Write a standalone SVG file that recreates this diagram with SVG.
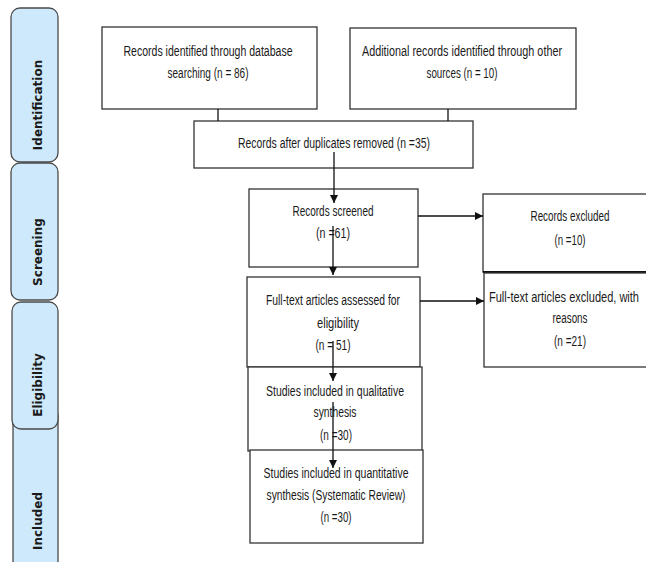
<svg xmlns="http://www.w3.org/2000/svg" width="646" height="562" viewBox="0 0 646 562">
<style>
.tab{fill:#cde9fb;stroke:#4a4a4a;stroke-width:1.3}
.tt{font-family:"DejaVu Sans",sans-serif;font-weight:bold;font-size:12px;fill:#1a1a1a;text-anchor:middle}
.box{fill:#fff;stroke:#333;stroke-width:1.3}
.t{font-family:"Liberation Sans",Arial,sans-serif;font-size:14px;fill:#1a1a1a;text-anchor:middle}
.ln{stroke:#111;stroke-width:1.3;fill:none}
</style>
<defs>
<marker id="ah" viewBox="0 0 10 10" refX="10" refY="5" markerWidth="8" markerHeight="8" markerUnits="userSpaceOnUse" orient="auto">
<path d="M0,0 L10,5 L0,10 Z" fill="#111"/>
</marker>
</defs>
<rect width="646" height="562" fill="#fff"/>
<g id="tab-included"><rect class="tab" x="13" y="408" width="45" height="170" rx="8"/><text class="tt" transform="translate(42,521) rotate(-90)">Included</text></g>
<g id="tab-identification"><rect class="tab" x="11" y="8" width="47" height="154" rx="9"/><text class="tt" transform="translate(42,105) rotate(-90)">Identification</text></g>
<g id="tab-screening"><rect class="tab" x="11" y="163" width="47" height="137" rx="9"/><text class="tt" transform="translate(42,252) rotate(-90)">Screening</text></g>
<g id="tab-eligibility"><rect class="tab" x="12" y="302" width="46" height="127" rx="9"/><text class="tt" transform="translate(42,385) rotate(-90)">Eligibility</text></g>

<g id="n1"><rect class="box" x="102" y="27" width="215" height="82"/><text class="t" x="208" y="56" textLength="169" lengthAdjust="spacingAndGlyphs">Records identified through database</text><text class="t" x="208" y="78" textLength="81" lengthAdjust="spacingAndGlyphs">searching (n = 86)</text></g>
<g id="n2"><rect class="box" x="350" y="28" width="226" height="81"/><text class="t" x="462" y="56" textLength="200" lengthAdjust="spacingAndGlyphs">Additional records identified through other</text><text class="t" x="462" y="78" textLength="71" lengthAdjust="spacingAndGlyphs">sources (n = 10)</text></g>
<g id="n3"><rect class="box" x="194" y="121" width="279" height="47"/><text class="t" x="334" y="148" textLength="192" lengthAdjust="spacingAndGlyphs">Records after duplicates removed (n =35)</text></g>
<g id="n4"><rect class="box" x="249" y="189" width="169" height="78"/><text class="t" x="333" y="216" textLength="81" lengthAdjust="spacingAndGlyphs">Records screened</text><text class="t" x="333" y="238" textLength="34" lengthAdjust="spacingAndGlyphs">(n =61)</text></g>
<g id="n5"><rect class="box" x="483" y="194" width="175" height="78"/><line x1="483" y1="272" x2="646" y2="272" stroke="#111" stroke-width="2.2"/><text class="t" x="570" y="221" textLength="79" lengthAdjust="spacingAndGlyphs">Records excluded</text><text class="t" x="570" y="245" textLength="31" lengthAdjust="spacingAndGlyphs">(n =10)</text></g>
<g id="n6"><rect class="box" x="247" y="277" width="173" height="90"/><text class="t" x="333" y="305" textLength="134" lengthAdjust="spacingAndGlyphs">Full-text articles assessed for</text><text class="t" x="338" y="328" textLength="42" lengthAdjust="spacingAndGlyphs">eligibility</text><text class="t" x="333" y="350" textLength="35" lengthAdjust="spacingAndGlyphs">(n = 51)</text></g>
<g id="n7"><rect class="box" x="484" y="273" width="174" height="94"/><text class="t" x="564" y="302" textLength="150" lengthAdjust="spacingAndGlyphs">Full-text articles excluded, with</text><text class="t" x="570" y="323" textLength="35" lengthAdjust="spacingAndGlyphs">reasons</text><text class="t" x="570" y="346" textLength="32" lengthAdjust="spacingAndGlyphs">(n =21)</text></g>
<g id="n8"><rect class="box" x="248" y="367" width="174" height="84"/><text class="t" x="335" y="396" textLength="138" lengthAdjust="spacingAndGlyphs">Studies included in qualitative</text><text class="t" x="335" y="417" textLength="43" lengthAdjust="spacingAndGlyphs">synthesis</text><text class="t" x="336" y="440" textLength="32" lengthAdjust="spacingAndGlyphs">(n =30)</text></g>
<g id="n9"><rect class="box" x="250" y="450" width="173" height="93"/><text class="t" x="336" y="478" textLength="145" lengthAdjust="spacingAndGlyphs">Studies included in quantitative</text><text class="t" x="336" y="500" textLength="139" lengthAdjust="spacingAndGlyphs">synthesis (Systematic Review)</text><text class="t" x="336" y="522" textLength="31" lengthAdjust="spacingAndGlyphs">(n =30)</text></g>

<g id="connectors">
<line class="ln" x1="218" y1="109" x2="218" y2="121"/>
<line class="ln" x1="448" y1="109" x2="448" y2="121"/>
<line class="ln" x1="334" y1="152" x2="334" y2="203" marker-end="url(#ah)"/>
<line class="ln" x1="333" y1="226" x2="333" y2="275" marker-end="url(#ah)"/>
<line class="ln" x1="333" y1="341" x2="333" y2="381" marker-end="url(#ah)"/>
<line class="ln" x1="333" y1="402" x2="333" y2="468" marker-end="url(#ah)"/>
<line class="ln" x1="418" y1="216" x2="483" y2="216" marker-end="url(#ah)"/>
<line class="ln" x1="420" y1="301" x2="484" y2="301" marker-end="url(#ah)"/>
</g>
</svg>
